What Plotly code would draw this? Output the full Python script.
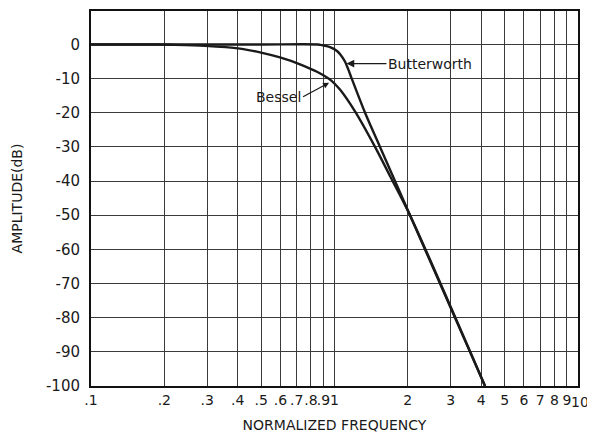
import math
import plotly.graph_objects as go

# Values
butter_f = [0.1, 0.2, 0.5, 0.8554, 0.8719, 0.9583, 1.024, 1.053, 1.104, 1.139, 1.177, 1.335, 1.538, 2.042, 4.151]
butter_db = [0, 0, 0, 0, -0.1, -0.8, -1.9, -2.8, -5.0, -7.3, -10.0, -20.0, -30.0, -50.0, -100]

bessel_f = [0.1, 0.1747, 0.2111, 0.2938, 0.4091, 0.4943, 0.5973, 0.7216, 0.8475, 0.9674, 1.053, 1.214, 1.467, 1.690, 2.042, 4.151]
bessel_db = [0, 0, -0.1, -0.4, -1.2, -2.3, -3.8, -5.8, -8.0, -10.5, -13.2, -19.6, -30.0, -38.5, -50.0, -100]

x_tickvals = [0.1, 0.2, 0.3, 0.4, 0.5, 0.6, 0.7, 0.8, 0.9, 1, 2, 3, 4, 5, 6, 7, 8, 9, 10]
x_ticktext = [".1", ".2", ".3", ".4", ".5", ".6", ".7", ".8", ".9", "1", "2", "3", "4", "5", "6", "7", "8", "9", ""]
last_x_label = "10"
y_tickvals = [0, -10, -20, -30, -40, -50, -60, -70, -80, -90, -100]
y_ticktext = ["0", "-10", "-20", "-30", "-40", "-50", "-60", "-70", "-80", "-90", "-100"]

FONT = "DejaVu Sans"
INK = "#1a1a1a"

fig = go.Figure()
fig.add_trace(go.Scatter(x=butter_f, y=butter_db, mode="lines", name="Butterworth",
                         line=dict(color=INK, width=2.4, shape="spline", smoothing=0.8)))
fig.add_trace(go.Scatter(x=bessel_f, y=bessel_db, mode="lines", name="Bessel",
                         line=dict(color=INK, width=2.4, shape="spline", smoothing=0.8)))

fig.add_annotation(x=math.log10(1.12), y=-5.6, xref="x", yref="y", text="Butterworth",
                   showarrow=True, arrowhead=2, arrowsize=1.2, arrowwidth=1.3, arrowcolor=INK,
                   ax=40, ay=0, xanchor="left", font=dict(family=FONT, size=14, color=INK))
fig.add_annotation(x=math.log10(0.95), y=-11.2, xref="x", yref="y", text="Bessel",
                   showarrow=True, arrowhead=2, arrowsize=1.0, arrowwidth=1.2, arrowcolor=INK,
                   ax=-26, ay=14, xanchor="right", font=dict(family=FONT, size=14, color=INK))
# last x tick label, nudged right like the reference
fig.add_annotation(x=1, y=0, xref="x", yref="paper", text=last_x_label, showarrow=False,
                   xanchor="center", yanchor="middle", xshift=2, yshift=-16,
                   font=dict(family=FONT, size=14, color=INK))

fig.update_xaxes(type="log", range=[-1, 1], tickvals=x_tickvals, ticktext=x_ticktext,
                 tickangle=0, automargin=False,
                 showgrid=True, gridcolor="#3a3a3a", gridwidth=1.2, ticks="", ticklen=0,
                 showline=True, linecolor="#111", linewidth=2, mirror=True, zeroline=False,
                 tickfont=dict(family=FONT, size=14, color=INK),
                 title=dict(text="NORMALIZED FREQUENCY", font=dict(family=FONT, size=14, color=INK), standoff=13))
fig.update_yaxes(range=[-100, 9.8], tickvals=y_tickvals, ticktext=y_ticktext, automargin=False,
                 showgrid=True, gridcolor="#3a3a3a", gridwidth=1.2, ticks="", ticklen=0,
                 showline=True, linecolor="#111", linewidth=2, mirror=True, zeroline=False,
                 tickfont=dict(family=FONT, size=15, color=INK), ticklabelstandoff=6,
                 title=dict(text="AMPLITUDE(dB)", font=dict(family=FONT, size=14, color=INK), standoff=20))

fig.update_layout(width=587, height=427, autosize=False,
                  margin=dict(l=83, r=17, t=3, b=49),
                  paper_bgcolor="white", plot_bgcolor="white", showlegend=False)

fig.write_html("out.html")
